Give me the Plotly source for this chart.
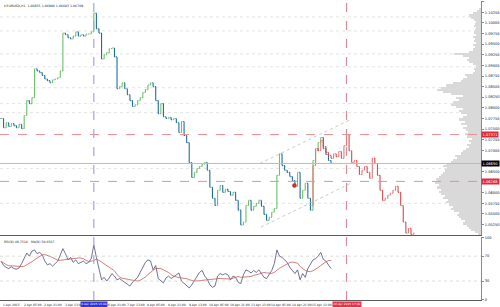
import plotly.graph_objects as go
import pandas as pd

# ---------------- data ----------------
close_main = [1.0775, 1.0753, 1.0765, 1.0756, 1.0763, 1.0758, 1.0753, 1.0761, 1.0751, 1.0782,
              1.0817, 1.0810, 1.0824, 1.0892, 1.0887, 1.0883, 1.0876, 1.0868, 1.0864, 1.0859,
              1.0866, 1.0868, 1.0871, 1.0887, 1.0976, 1.0972, 1.0965, 1.0962, 1.0969, 1.0979,
              1.0969, 1.0972, 1.0969, 1.0974, 1.0974, 1.0979, 1.1023, 1.0986, 1.0976, 1.0915,
              1.0925, 1.0930, 1.0939, 1.0941, 1.0920, 1.0845, 1.0850, 1.0859, 1.0845, 1.0831,
              1.0817, 1.0803, 1.0807, 1.0817, 1.0824, 1.0836, 1.0843, 1.0854, 1.0859, 1.0850,
              1.0817, 1.0786, 1.0810, 1.0779, 1.0775, 1.0777, 1.0772, 1.0775, 1.0765, 1.0742,
              1.0768, 1.0735, 1.0718, 1.0671, 1.0636, 1.0648, 1.0657, 1.0662, 1.0667, 1.0671,
              1.0653, 1.0613, 1.0587, 1.0570, 1.0606, 1.0617, 1.0601, 1.0608, 1.0603, 1.0594,
              1.0601, 1.0582, 1.0559, 1.0524, 1.0531, 1.0570, 1.0582, 1.0559, 1.0568, 1.0575,
              1.0582, 1.0568, 1.0549, 1.0535, 1.0542, 1.0554, 1.0563, 1.0641, 1.0692, 1.0664,
              1.0653, 1.0648, 1.0638, 1.0629, 1.0615, 1.0648, 1.0587, 1.0606, 1.0622, 1.0587,
              1.0559, 1.0676, 1.0699, 1.0718, 1.0730, 1.0704, 1.0690, 1.0676, 1.0669]

proj_start = 120
close_proj = [1.0570, 1.0664, 1.0704, 1.0699, 1.0723, 1.0709, 1.0695, 1.0688, 1.0681, 1.0692,
              1.0685, 1.0697, 1.0681, 1.0711, 1.0737, 1.0699, 1.0671, 1.0676, 1.0662, 1.0643,
              1.0653, 1.0662, 1.0648, 1.0634, 1.0681, 1.0669, 1.0641, 1.0606, 1.0582, 1.0587,
              1.0594, 1.0599, 1.0606, 1.0615, 1.0601, 1.0570, 1.0531, 1.0505, 1.0516, 1.0502,
              1.0505]

rsi = [62, 55, 52, 50, 53, 50, 49, 51, 58, 66,
       75, 70, 78, 80, 74, 76, 72, 62, 56, 58,
       54, 58, 62, 72, 82, 74, 64, 68, 60, 64,
       58, 60, 62, 58, 60, 66, 88, 68, 50, 32,
       36, 30, 35, 42, 38, 32, 34, 31, 29, 26,
       22, 28, 32, 36, 44, 52, 60, 64, 62, 48,
       55, 34, 30, 27, 35, 38, 34, 37, 40, 43,
       30, 26, 22, 19, 24, 30, 38, 44, 47, 38,
       33, 24, 20, 22, 38, 42, 40, 42, 40, 32,
       38, 36, 28, 26, 40, 48, 46, 43, 47, 44,
       48, 42, 36, 34, 40, 47, 58, 80, 70, 68,
       64, 60, 52, 46, 42, 48, 32, 42, 36, 50,
       58, 64, 66, 70, 76, 65, 62, 56, 50]

# time labels (one every 8 bars); labels hidden under highlight boxes are left out
time_label_bars = [0, 8, 16, 24, 40, 48, 56, 64, 72, 80, 88, 96, 104, 112, 120]
time_labels = ["1 Apr 2015", "2 Apr 05:00", "2 Apr 21:00", "3 Apr 13:00",
               "6 Apr 21:00", "7 Apr 13:00", "8 Apr 05:00", "8 Apr 21:00", "9 Apr 13:00",
               "10 Apr 05:00", "10 Apr 21:00", "13 Apr 13:00", "14 Apr 05:00", "14 Apr 21:00",
               "15 Apr 13:00"]

profile_start = 1.05025
profile_step = 0.0005
profile_volume = [3, 6, 10, 12, 14, 18, 16, 20, 22, 24,
                  22, 27, 30, 28, 32, 35, 33, 38, 36, 40,
                  42, 40, 44, 42, 46, 44, 45, 42, 40, 38,
                  36, 34, 38, 35, 30, 28, 24, 26, 20, 18,
                  15, 12, 14, 10, 12, 9, 14, 16, 13, 15,
                  18, 14, 20, 16, 22, 18, 14, 20, 22, 18,
                  25, 30, 28, 22, 25, 18, 30, 38, 44, 40,
                  35, 28, 20, 18, 14, 16, 8, 6, 7, 5,
                  8, 12, 14, 12, 18, 27, 12, 8, 6, 8,
                  5, 7, 6, 8, 5, 7, 6, 5, 7, 6,
                  5, 7, 10, 12, 8, 4, 2]

price_ticks = [1.05 + 0.0025 * k for k in range(1, 23)]
red_levels = [1.07371, 1.06268]
gray_levels = [1.10141, 1.09812, 1.09272, 1.08967, 1.08474, 1.08099, 1.07887, 1.06573, 1.05751]
vlines = [(36, "6 Apr 2015 13:00", "#a6a6d8", "#3232d6"),
          (134, "16 Apr 2015 17:00", "#d88a98", "#e0334d")]
channel_upper = ([100.4, 135.4], [1.0669, 1.0772])
channel_lower = ([100.8, 136.2], [1.0519, 1.0624])
marker_pt = ([113.8], [1.0617])
rsi_levels = [30, 70]
title_text = "\u25be EURUSD,H1  1.06835 1.06900 1.06603 1.06709"
rsi_title = "RSI(9) 49.7510   MA(9) 50.6567"

# ---------------- derived ----------------
def ohlc(closes):
    opens = [closes[0]] + closes[:-1]
    highs = [max(o, c) for o, c in zip(opens, closes)]
    lows = [min(o, c) for o, c in zip(opens, closes)]
    return opens, highs, lows

mo, mh, ml = ohlc(close_main)
po, ph, pl = ohlc(close_proj)
x_main = list(range(len(close_main)))
x_proj = list(range(proj_start, proj_start + len(close_proj)))
rsi_ma = pd.Series(rsi).rolling(9, min_periods=1).mean().tolist()
prof_y = [profile_start + profile_step * j for j in range(len(profile_volume))]
cur = close_main[-1]
special = red_levels + [cur]
shown_ticks = [v for v in price_ticks if all(abs(v - s) > 0.0009 for s in special)]

PMIN, PMAX = 1.05, 1.05 + 235 * 0.00023474

fig = go.Figure()

fig.add_trace(go.Bar(x=profile_volume, y=prof_y, orientation="h", width=profile_step,
                     marker=dict(color="#d9d9d9", line=dict(width=0)),
                     xaxis="x3", yaxis="y", showlegend=False))

fig.add_trace(go.Ohlc(x=x_main, open=mo, high=mh, low=ml, close=close_main,
                      increasing=dict(line=dict(color="#6cc06c", width=1.1)),
                      decreasing=dict(line=dict(color="#1d6e9e", width=1.1)),
                      tickwidth=0.35, xaxis="x", yaxis="y", showlegend=False))

fig.add_trace(go.Ohlc(x=x_proj, open=po, high=ph, low=pl, close=close_proj,
                      increasing=dict(line=dict(color="#e87878", width=1.1)),
                      decreasing=dict(line=dict(color="#da4a4a", width=1.1)),
                      tickwidth=0.35, xaxis="x", yaxis="y", showlegend=False))

for xs, ys in (channel_upper, channel_lower):
    fig.add_trace(go.Scatter(x=xs, y=ys, mode="lines",
                             line=dict(color="#9cc09c", width=0.7, dash="dot"),
                             xaxis="x", yaxis="y", showlegend=False))

fig.add_trace(go.Scatter(x=marker_pt[0], y=marker_pt[1], mode="markers",
                         marker=dict(color="#d42a2a", size=4.5),
                         xaxis="x", yaxis="y", showlegend=False))

fig.add_trace(go.Scatter(x=x_main, y=rsi, mode="lines", line=dict(color="#4c4c78", width=0.8),
                         xaxis="x2", yaxis="y2", showlegend=False))
fig.add_trace(go.Scatter(x=x_main, y=rsi_ma, mode="lines", line=dict(color="#c85a5a", width=0.8),
                         xaxis="x2", yaxis="y2", showlegend=False))

shapes = []
for lv in gray_levels:
    shapes.append(dict(type="line", xref="paper", x0=0, x1=1, yref="y", y0=lv, y1=lv,
                       line=dict(color="#d2d2d2", width=0.6, dash="dot"), layer="below"))
for lv in red_levels:
    shapes.append(dict(type="line", xref="paper", x0=0, x1=1, yref="y", y0=lv, y1=lv,
                       line=dict(color="#e89090", width=1, dash="dash")))
shapes.append(dict(type="line", xref="paper", x0=0, x1=1, yref="y", y0=cur, y1=cur,
                   line=dict(color="#bcbcbc", width=1)))
for lv in rsi_levels:
    shapes.append(dict(type="line", xref="paper", x0=0, x1=1, yref="y2", y0=lv, y1=lv,
                       line=dict(color="#c4c4c4", width=0.6, dash="dot")))
for bx, _, lc, _ in vlines:
    shapes.append(dict(type="line", xref="x", x0=bx, x1=bx, yref="paper", y0=0, y1=1,
                       line=dict(color=lc, width=1.2, dash="dash")))

ann = []
fs = 3.0
for b, t in zip(time_label_bars, time_labels):
    ann.append(dict(x=b, xref="x", y=0, yref="paper", yanchor="top", xanchor="left",
                    text=t, showarrow=False, font=dict(size=fs, color="#222"), yshift=-1,
                    xshift=2 if b == 40 else 0))
for bx, t, _, bg in vlines:
    ann.append(dict(x=bx, xref="x", y=0, yref="paper", yanchor="top", xanchor="center",
                    text=t, showarrow=False, font=dict(size=2.9, color="white"), bgcolor=bg,
                    borderpad=0.3, yshift=-0.8))
for lv in red_levels:
    ann.append(dict(x=1, xref="paper", y=lv, yref="y", xanchor="left", yanchor="middle",
                    text=f"{lv:.5f}", showarrow=False, font=dict(size=3.6, color="white"),
                    bgcolor="#e0283c", borderpad=0.6))
ann.append(dict(x=1, xref="paper", y=cur, yref="y", xanchor="left", yanchor="middle",
                text=f"{cur:.5f}", showarrow=False, font=dict(size=3.6, color="white"),
                bgcolor="#000000", borderpad=0.6))
ann.append(dict(x=0, xref="paper", y=1, yref="paper", xanchor="left", yanchor="top",
                text=title_text, showarrow=False, font=dict(size=3.2, color="#222"), xshift=2, yshift=-1))
ann.append(dict(x=0, xref="paper", y=0.21, yref="paper", xanchor="left", yanchor="top",
                text=rsi_title, showarrow=False, font=dict(size=3.2, color="#222"), xshift=2, yshift=-1))

XMIN, XMAX = -1 / 2.6, 484 / 2.6

fig.update_layout(
    width=500, height=307,
    margin=dict(l=0, r=15, t=0, b=7),
    paper_bgcolor="white", plot_bgcolor="white",
    font=dict(family="DejaVu Sans", size=3.5, color="#222"),
    bargap=0,
    xaxis=dict(domain=[0, 1], anchor="y", range=[XMIN, XMAX], showticklabels=False,
               showgrid=False, zeroline=False, showline=True, linecolor="#5a5a5a", linewidth=1,
               rangeslider=dict(visible=False), ticks=""),
    xaxis2=dict(domain=[0, 1], anchor="y2", matches="x", range=[XMIN, XMAX], showticklabels=False,
                showgrid=False, zeroline=False, showline=True, linecolor="#5a5a5a", linewidth=1,
                rangeslider=dict(visible=False), ticks=""),
    xaxis3=dict(overlaying="x", anchor="y", range=[max(profile_volume) * 485 / 46, 0],
                visible=False, showgrid=False, zeroline=False),
    yaxis=dict(domain=[65 / 300, 1], anchor="x", side="right", range=[PMIN, PMAX],
               tickvals=shown_ticks, ticktext=[f"{v:.5f}" for v in shown_ticks],
               tickfont=dict(size=3.6, color="#222"), ticks="outside", ticklen=2,
               tickcolor="#888", showgrid=False, zeroline=False, showline=True,
               linecolor="#8a8a8a", linewidth=1),
    yaxis2=dict(domain=[0, 63 / 300], anchor="x2", side="right", range=[-0.4, 100.4],
                tickvals=[0, 30, 70, 100], ticktext=["0", "30", "70", "100"],
                tickfont=dict(size=3.6, color="#222"), ticks="outside", ticklen=2,
                tickcolor="#888", showgrid=False, zeroline=False, showline=True,
                linecolor="#8a8a8a", linewidth=1),
    shapes=shapes,
    annotations=ann,
    showlegend=False,
)

fig.write_html("out.html")
